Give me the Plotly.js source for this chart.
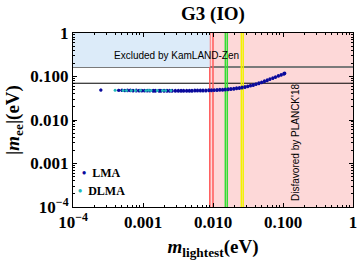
<!DOCTYPE html>
<html>
<head>
<meta charset="utf-8">
<script src="https://cdn.plot.ly/plotly-3.0.1.min.js"></script>
<style>html,body{margin:0;padding:0;background:#fff;}#chart{width:360px;height:263px;}</style>
</head>
<body>
<div id="chart"></div>
<script>
// ---- data ----
const lmaX = [0.00025, 0.00045, 0.0005, 0.00055, 0.0006, 0.00066, 0.00072, 0.0008, 0.00088, 0.00096,
  0.00105, 0.00115, 0.00125, 0.0014, 0.0015, 0.0017, 0.0018, 0.002, 0.0022, 0.0024,
  0.0026, 0.0029, 0.0032, 0.0035, 0.0038, 0.0042, 0.0046, 0.005, 0.0055, 0.006,
  0.0066, 0.0072, 0.0079, 0.0087, 0.0095, 0.0104, 0.0114, 0.0125, 0.0137, 0.015,
  0.0165, 0.018, 0.0198, 0.0217, 0.0238, 0.026, 0.0286, 0.0313, 0.0343, 0.0376,
  0.0412, 0.0452, 0.0495, 0.0543, 0.0595, 0.065, 0.0715, 0.078, 0.0858, 0.094,
  0.103, 0.106];
const lmaYHigh = [0.0490, 0.0485, 0.0487, 0.0486, 0.0488, 0.0487, 0.0486, 0.0487, 0.0486, 0.0486,
  0.0485, 0.0486, 0.0485, 0.0485, 0.0484, 0.0485, 0.0484, 0.0484, 0.0484, 0.0484,
  0.0483, 0.0484, 0.0484, 0.0484, 0.0485, 0.0485, 0.0486, 0.0486, 0.0487, 0.0488,
  0.0489, 0.0490, 0.0492, 0.0494, 0.0496, 0.0499, 0.0502, 0.0506, 0.0510, 0.0515,
  0.0522, 0.0529, 0.0538, 0.0548, 0.0560, 0.0573, 0.0590, 0.0608, 0.0630, 0.0655,
  0.0683, 0.0716, 0.0752, 0.0794, 0.0840, 0.0885, 0.0935, 0.0985, 0.1050, 0.1115,
  0.1180, 0.1210];
const lmaYLow = [0.0490, 0.0480, 0.0475, 0.0472, 0.0470, 0.0468, 0.0467, 0.0466, 0.0465, 0.0464,
  0.0463, 0.0462, 0.0462, 0.0461, 0.0461, 0.0460, 0.0460, 0.0460, 0.0459, 0.0459,
  0.0459, 0.0459, 0.0459, 0.0460, 0.0460, 0.0460, 0.0461, 0.0461, 0.0462, 0.0463,
  0.0464, 0.0465, 0.0467, 0.0469, 0.0471, 0.0474, 0.0477, 0.0481, 0.0485, 0.0490,
  0.0496, 0.0503, 0.0512, 0.0521, 0.0533, 0.0546, 0.0562, 0.0580, 0.0601, 0.0625,
  0.0652, 0.0684, 0.0719, 0.0759, 0.0803, 0.0848, 0.0897, 0.0945, 0.1010, 0.1070,
  0.1130, 0.1170];
const dlmaX = [0.0004, 0.00052, 0.00058, 0.00068, 0.00078, 0.00092, 0.0011, 0.0012, 0.0013, 0.0016, 0.0019, 0.0021, 0.0025];
const dlmaY = [0.0480, 0.0478, 0.0476, 0.0479, 0.0477, 0.0480, 0.0478, 0.0482, 0.0476, 0.0479, 0.0477, 0.0475, 0.0474];

const kamlandLimit = 0.165;   // upper bound (gray line)
const blackLine = 0.07;       // horizontal black line
const planckStart = 0.009;    // start of PLANCK'18 disfavored region
const redLines = [0.009, 0.0100];
const greenLines = [0.0150, 0.0160];
const yellowLines = [0.0254, 0.0270];

const tickVals = [0.0001, 0.001, 0.01, 0.1, 1];
const xTickText = ['10<sup>\u22124</sup>', '0.001', '0.010', '0.100', '1'];
const yTickText = ['10<sup>\u22124</sup>', '0.001', '0.010', '0.100', '1'];

const navy = '#0a0a9c';
const cyan = '#22b8b8';
const serif = 'Liberation Serif, Times New Roman, serif';
const sans = 'Liberation Sans, Arial, sans-serif';

// ---- traces ----
const traces = [
  {x: lmaX.concat(lmaX), y: lmaYHigh.concat(lmaYLow), type: 'scatter', mode: 'markers', name: 'LMA',
   marker: {color: navy, size: 3}, hoverinfo: 'skip'},
  {x: dlmaX, y: dlmaY, type: 'scatter', mode: 'markers', name: 'DLMA',
   marker: {color: cyan, size: 3}, hoverinfo: 'skip'}
];

// ---- shapes ----
const shapes = [
  {type: 'rect', layer: 'below', xref: 'x', yref: 'paper', x0: planckStart, x1: 1, y0: 0, y1: 1,
   fillcolor: '#fdd8d8', line: {width: 0}},
  {type: 'rect', layer: 'below', xref: 'x', yref: 'y', x0: 0.0001, x1: planckStart, y0: kamlandLimit, y1: 1,
   fillcolor: '#dcebf9', line: {width: 0}},
  {type: 'line', layer: 'below', xref: 'paper', yref: 'y', x0: 0, x1: 1, y0: kamlandLimit, y1: kamlandLimit,
   line: {color: '#7a7a7a', width: 2}},
  {type: 'line', layer: 'below', xref: 'paper', yref: 'y', x0: 0, x1: 1, y0: blackLine, y1: blackLine,
   line: {color: '#000', width: 1}}
];
function vlines(vals, color) {
  vals.forEach(v => shapes.push({type: 'line', layer: 'below', xref: 'x', yref: 'paper', x0: v, x1: v, y0: 0, y1: 1,
    line: {color: color, width: 1.5}}));
}
vlines(redLines, '#ff5a5a');
vlines(greenLines, '#33dd33');
vlines(yellowLines, '#f2f200');

const axisCommon = {
  type: 'log', showgrid: false, zeroline: false, showline: true, linecolor: '#000', linewidth: 1,
  mirror: 'allticks', ticks: 'inside', ticklen: 4, tickcolor: '#000', tickmode: 'array', tickvals: tickVals,
  tickfont: {family: serif, size: 17, color: '#000', weight: 'bold'},
  minor: {dtick: 'D1', ticks: 'inside', ticklen: 2, tickcolor: '#000', showgrid: false}
};

const layout = {
  width: 360, height: 263,
  margin: {l: 73, r: 7, t: 33, b: 56},
  paper_bgcolor: '#fff', plot_bgcolor: '#fff',
  showlegend: false,
  title: {text: 'G3 (IO)', x: 213 / 360, xanchor: 'center', y: 1 - 13 / 263, yanchor: 'middle',
    font: {family: serif, size: 19, color: '#000', weight: 'bold'}},
  xaxis: Object.assign({}, axisCommon, {
    range: [-4, 0], ticktext: xTickText,
    title: {text: '<i>m</i><sub>lightest</sub>(eV)', standoff: 8,
      font: {family: serif, size: 19, color: '#000', weight: 'bold'}}
  }),
  yaxis: Object.assign({}, axisCommon, {
    range: [-4, 0], ticktext: yTickText,
    title: {text: '|<i>m</i><sub>ee</sub>|(eV)', standoff: 5,
      font: {family: serif, size: 19, color: '#000', weight: 'bold'}}
  }),
  shapes: shapes,
  annotations: [
    {text: 'Excluded by KamLAND-Zen', xref: 'x', yref: 'y', x: -2.521, y: -0.506, showarrow: false,
     xanchor: 'center', yanchor: 'middle', font: {family: sans, size: 10, color: '#000'}},
    {text: "Disfavored by PLANCK'18", xref: 'x', yref: 'y', x: -0.83, y: -2.506, showarrow: false,
     textangle: -90, xanchor: 'center', yanchor: 'middle', font: {family: sans, size: 10, color: '#000'}},
    {text: '<span style="color:' + navy + '">\u2022</span>  LMA', xref: 'paper', yref: 'paper',
     x: (80 - 73) / 280, y: (207 - 172.5) / 174, showarrow: false, xanchor: 'left', yanchor: 'middle',
     font: {family: serif, size: 12, color: '#000', weight: 'bold'}},
    {text: '<span style="color:' + cyan + '">\u2022</span>  DLMA', xref: 'paper', yref: 'paper',
     x: (76 - 73) / 280, y: (207 - 191) / 174, showarrow: false, xanchor: 'left', yanchor: 'middle',
     font: {family: serif, size: 12, color: '#000', weight: 'bold'}}
  ]
};

Plotly.newPlot('chart', traces, layout, {staticPlot: true, displayModeBar: false});
</script>
</body>
</html>
